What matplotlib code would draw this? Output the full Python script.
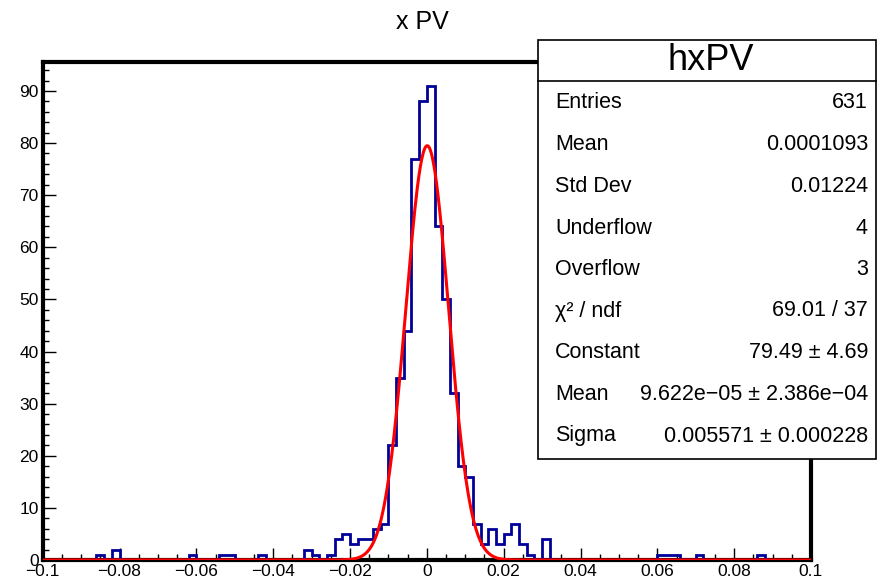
import numpy as np
import matplotlib
matplotlib.use("Agg")
import matplotlib.pyplot as plt
from matplotlib.patches import Rectangle
from matplotlib.lines import Line2D

plt.rcParams['font.family'] = ['Liberation Sans', 'DejaVu Sans']

# histogram hxPV: 100 bins from -0.1 to 0.1
x_min, x_max, n_bins = -0.1, 0.1, 100
counts = [0, 0, 0, 0, 0, 0, 0, 1, 0, 2,
          0, 0, 0, 0, 0, 0, 0, 0, 0, 1,
          0, 0, 0, 1, 1, 0, 0, 0, 1, 0,
          0, 0, 0, 0, 2, 1, 0, 1, 4, 5,
          3, 4, 4, 6, 7, 22, 35, 44, 77, 88,
          91, 64, 50, 32, 18, 16, 7, 3, 6, 3,
          5, 7, 3, 1, 0, 4, 0, 0, 0, 0,
          0, 0, 0, 0, 0, 0, 0, 0, 0, 0,
          1, 1, 1, 0, 0, 1, 0, 0, 0, 0,
          0, 0, 0, 1, 0, 0, 0, 0, 0, 0]

# gaus fit results
fit_const = 79.49
fit_mean = 9.622e-05
fit_sigma = 0.005571

# stats box
stat_names = ["Entries", "Mean", "Std Dev", "Underflow", "Overflow",
              "χ² / ndf", "Constant", "Mean", "Sigma"]
stat_values = ["631", "0.0001093", "0.01224", "4", "3",
               "69.01 / 37", "79.49 ± 4.69", "9.622e−05 ± 2.386e−04",
               "0.005571 ± 0.000228"]

xticks = [-0.1, -0.08, -0.06, -0.04, -0.02, 0, 0.02, 0.04, 0.06, 0.08, 0.1]
xtick_labels = ["−0.1", "−0.08", "−0.06", "−0.04", "−0.02", "0",
                "0.02", "0.04", "0.06", "0.08", "0.1"]
yticks = [0, 10, 20, 30, 40, 50, 60, 70, 80, 90]

W, H = 877, 586
fig = plt.figure(figsize=(W / 100, H / 100), dpi=100)
ax = fig.add_axes([42.7 / W, 1 - 560 / H, (811 - 42.7) / W, (560 - 62) / H])

edges = np.linspace(x_min, x_max, n_bins + 1)
ax.stairs(counts, edges, color="#000099", lw=2.0, zorder=3)

# fit curve drawn over the whole range like ROOT does
xf = np.linspace(x_min, x_max, 1000)
yf = fit_const * np.exp(-0.5 * ((xf - fit_mean) / fit_sigma) ** 2)
ax.plot(xf, yf, color="red", lw=2.2, zorder=4)

ax.set_xlim(x_min, x_max)
ax.set_ylim(0, 1.05 * max(counts))
ax.set_xticks(xticks)
ax.set_xticklabels(xtick_labels)
ax.set_xticks(np.arange(-0.1, 0.1001, 0.005), minor=True)
ax.set_yticks(yticks)
ax.set_yticks(np.arange(0, 96, 2), minor=True)
ax.tick_params(which="both", direction="in", top=False, right=False,
               labelsize=12.5, colors="black")
ax.tick_params(which="major", length=9, width=1)
ax.tick_params(which="minor", length=4.5, width=1)
ax.tick_params(axis="x", pad=3)
ax.tick_params(axis="y", pad=3)
for s in ax.spines.values():
    s.set_linewidth(3)

fig.text(422 / W, 1 - 22 / H, "x PV", ha="center", va="center", fontsize=18)

# stats box on top of the frame
bx0, bx1, by0, by1 = 538 / W, 876 / W, 1 - 459 / H, 1 - 40 / H
fig.patches.append(Rectangle((bx0, by0), bx1 - bx0, by1 - by0, transform=fig.transFigure,
                             facecolor="white", edgecolor="black", lw=1.2, zorder=10))
fig.lines.append(Line2D([bx0, bx1], [1 - 81 / H, 1 - 81 / H], transform=fig.transFigure,
                        color="black", lw=1.2, zorder=11))
fig.text((bx0 + bx1) / 2 + 4 / W, 1 - 61 / H, "hxPV", ha="center", va="center",
         fontsize=26, zorder=12)
row_y = [102, 144, 186, 228, 269, 311, 353, 395, 436]
for name, val, yy in zip(stat_names, stat_values, row_y):
    fig.text(555 / W, 1 - yy / H, name, ha="left", va="center", fontsize=15.5, zorder=12)
    fig.text(868 / W, 1 - yy / H, val, ha="right", va="center", fontsize=15.5, zorder=12)

fig.savefig("out.png", dpi=100)
